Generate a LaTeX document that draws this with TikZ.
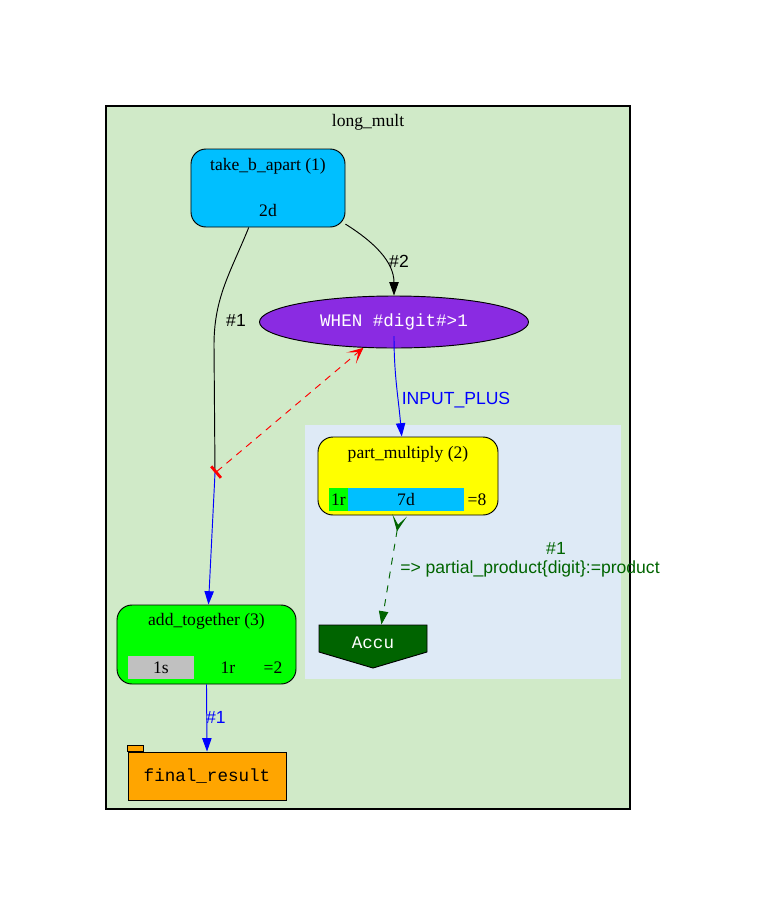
\documentclass[tikz,border=0pt]{standalone}
\usepackage{fontspec}
\setmainfont{Liberation Serif}
\setsansfont{Liberation Sans}
\setmonofont{Liberation Mono}
\usetikzlibrary{arrows.meta,calc,shapes.geometric}
\definecolor{clgreen}{RGB}{208,234,200}
\definecolor{clblue}{RGB}{222,234,246}
\definecolor{skyb}{RGB}{0,191,255}
\definecolor{whenvio}{RGB}{138,43,226}
\definecolor{accug}{RGB}{0,100,0}
\definecolor{orng}{RGB}{255,165,0}
\definecolor{cellgray}{RGB}{192,192,192}
\definecolor{yel}{RGB}{255,255,0}
\begin{document}
\begin{tikzpicture}[x=0.03cm, y=-0.03cm, font=\fontsize{15}{18}\selectfont,
        >={Triangle[length=0.4cm, width=0.28cm]}, line width=0.8pt,
        task/.style={draw, rounded corners=0.45cm, inner sep=0pt},
        txt/.style={inner sep=1pt},
        lbl/.style={inner sep=1pt, font=\sffamily\fontsize{15}{18}\selectfont},
        mono/.style={font=\ttfamily\fontsize{15}{18}\selectfont},
        veetip/.tip={Stealth[length=0.48cm, width=0.44cm, inset=0.28cm]},
        arr/.style={->}]
      \useasboundingbox (0,0) rectangle (759,918);
      % clusters
      \draw[fill=clgreen, line width=1.5pt] (106,106) rectangle (630,809);
      \node[txt] (title) at (368,122) {long\_mult};
      \fill[clblue] (305,425) rectangle (621,679);
      % tasks
      \node[task, fill=skyb, minimum width=4.62cm, minimum height=2.34cm] (tba) at (268,188) {};
      \node[txt] (tbat) at (268,166) {take\_b\_apart (1)};
      \node[txt] (tbac) at (268,210) {2d};
      \node[draw, ellipse, fill=whenvio, text=white, mono, inner sep=0pt,
            minimum width=8.07cm, minimum height=1.56cm] (when) at (394,322) {WHEN \#digit\#>1};
      \node[task, fill=yel, minimum width=5.4cm, minimum height=2.34cm] (pm) at (408,476) {};
      \node[txt] (pmt) at (408,454) {part\_multiply (2)};
      \fill[green] (329,488) rectangle (348,511);
      \fill[skyb] (348,488) rectangle (464,511);
      \node[txt] (pmc1) at (338.5,499.5) {1r};
      \node[txt] (pmc2) at (406,499.5) {7d};
      \node[txt] (pmc3) at (477,499.5) {=8};
      \node[task, fill=green, minimum width=5.37cm, minimum height=2.37cm] (add) at (206.5,644.5) {};
      \node[txt] (addt) at (206.5,621) {add\_together (3)};
      \fill[cellgray] (128,656) rectangle (194,679);
      \node[txt] (addc1) at (161,667.5) {1s};
      \node[txt] (addc2) at (228,667.5) {1r};
      \node[txt] (addc3) at (273,667.5) {=2};
      % data
      \node[draw, fill=orng, mono, minimum width=4.74cm, minimum height=1.44cm] (final) at (207,776) {final\_result};
      \filldraw[fill=orng] (final.north west) rectangle ++(16,-6);
      \filldraw[fill=accug] (319,625) -- (427,625) -- (427,652) -- (373,668) -- (319,652) -- cycle;
      \node[minimum width=3.24cm, minimum height=0.81cm, inner sep=0pt] (accu) at (373,638.5) {};
      \node[mono, text=white, inner sep=0pt] (accut) at (373,643) {Accu};
      % edges
      \coordinate (j) at (215,473);
      \draw[arr] (tba.-25) to[out=-32, in=90] (when.north);
      \node[lbl] (l2) at (399,261) {\#2};
      \draw (tba.244) to[out=-112, in=90] (214,345) -- (j);
      \node[lbl] (l1) at (236,320) {\#1};
      \draw[red, dash pattern=on 6pt off 5pt, {Bar[width=0.45cm, line width=2.4pt]}-{veetip}] (j) -- (when);
      \draw[arr, blue] (j) -- (add);
      \draw[arr, blue] ($(when.center)+(0,14)$) to[out=-90, in=95] (pm.99);
      \node[lbl, text=blue] (lip) at (456,400) {INPUT\_PLUS};
      \draw[accug, dash pattern=on 6pt off 6pt, {veetip[reversed]}-{Triangle[length=0.4cm, width=0.28cm]}] (pm.-102) -- (accu.59);
      \node[lbl, text=accug] (la1) at (556,548) {\#1};
      \node[lbl, text=accug] (la2) at (530,569) {=> partial\_product\{digit\}:=product};
      \draw[arr, blue] (add.south) -- (final.north);
      \node[lbl, text=blue] (lf) at (216,717) {\#1};
    \end{tikzpicture}
\end{document}
